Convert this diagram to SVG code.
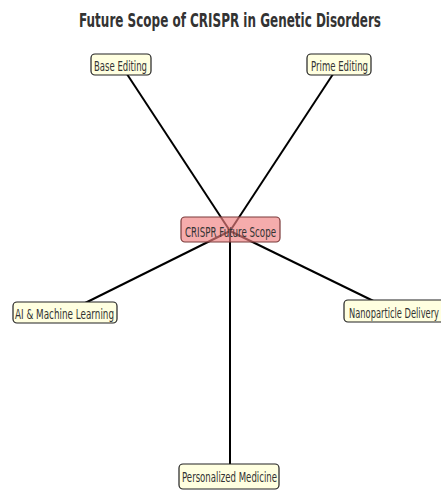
<svg xmlns="http://www.w3.org/2000/svg" width="441" height="492" viewBox="0 0 441 492">
<style>
text{font-family:"DejaVu Sans",sans-serif;text-anchor:middle;fill:#333}
.title{font-size:20px;font-weight:bold}
.lbl{font-size:14.5px}
.box{fill:#ffffe0;stroke:#222;stroke-width:1.2}
.core{fill:#f08080;fill-opacity:0.65;stroke:#7a3a3a;stroke-width:1.2}
.edge{stroke:#000;stroke-width:2;fill:none}
</style>
<rect width="441" height="492" fill="#fff"/>
<text class="title" x="230" y="27" textLength="302" lengthAdjust="spacingAndGlyphs">Future Scope of CRISPR in Genetic Disorders</text>
<g id="edges">
<line class="edge" x1="230" y1="231" x2="121" y2="65"/>
<line class="edge" x1="230" y1="231" x2="339" y2="65"/>
<line class="edge" x1="230" y1="231" x2="65" y2="313"/>
<line class="edge" x1="230" y1="231" x2="396" y2="312"/>
<line class="edge" x1="230" y1="231" x2="230" y2="476"/>
</g>
<g id="base-editing"><rect class="box" x="91" y="54" width="60" height="21" rx="4"/><text class="lbl" x="120.5" y="70.5" textLength="53" lengthAdjust="spacingAndGlyphs">Base Editing</text></g>
<g id="prime-editing"><rect class="box" x="307" y="54" width="64" height="21" rx="4"/><text class="lbl" x="339.5" y="70.5" textLength="57" lengthAdjust="spacingAndGlyphs">Prime Editing</text></g>
<g id="crispr"><rect class="core" x="181" y="217" width="99" height="25" rx="4"/><text class="lbl" x="230.5" y="236.5" textLength="91" lengthAdjust="spacingAndGlyphs">CRISPR Future Scope</text></g>
<g id="ai-ml"><rect class="box" x="13" y="302" width="104" height="21" rx="4"/><text class="lbl" x="64.5" y="318.5" textLength="99" lengthAdjust="spacingAndGlyphs">AI &amp; Machine Learning</text></g>
<g id="nanoparticle"><rect class="box" x="344" y="300" width="102" height="22" rx="4"/><text class="lbl" x="394" y="317.5" textLength="90" lengthAdjust="spacingAndGlyphs">Nanoparticle Delivery</text></g>
<g id="personalized"><rect class="box" x="179" y="464" width="100" height="25" rx="4"/><text class="lbl" x="229.5" y="482" textLength="95" lengthAdjust="spacingAndGlyphs">Personalized Medicine</text></g>
</svg>
